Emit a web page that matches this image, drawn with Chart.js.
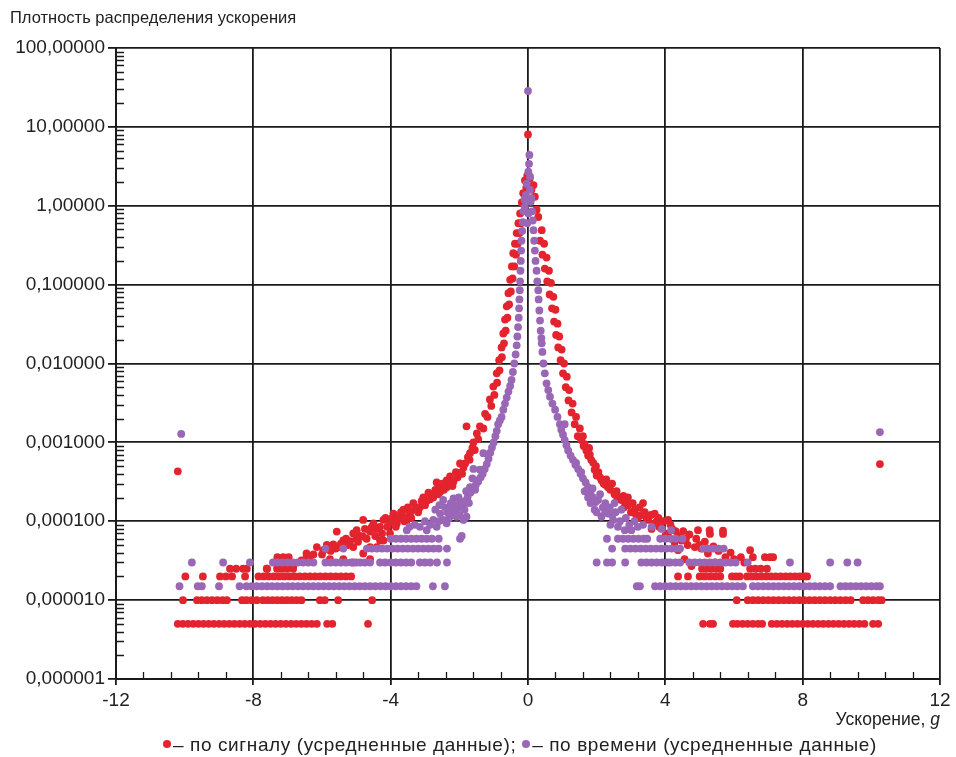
<!DOCTYPE html>
<html lang="ru">
<head>
    <meta charset="UTF-8">
    <title>Плотность распределения ускорения</title>
    <script src="https://cdn.jsdelivr.net/npm/chart.js@4.4.1/dist/chart.umd.min.js"></script>
    <style>
        body { margin: 0; background: #fff; }
        #wrap { position: relative; width: 956px; height: 757px; font-family: "Liberation Sans", Arial, sans-serif; color: #222; }
        #wrap canvas { position: absolute; left: 0; top: 0; }
        .title { position: absolute; left: 10px; top: 8px; font-size: 16.5px; }
        .xtitle { position: absolute; right: 16px; top: 709px; font-size: 17.5px; }
        .legend { position: absolute; left: 163px; top: 734px; font-size: 19px; letter-spacing: 0.6px; white-space: nowrap; }
        .dot { display: inline-block; width: 8px; height: 8px; border-radius: 50%; vertical-align: middle; margin: 0 2px 3px 0; }
    </style>
</head>
<body>
    <div id="wrap">
        <canvas id="chart" width="956" height="757"></canvas>
        <div class="title">Плотность распределения ускорения</div>
        <div class="xtitle">Ускорение, <i>g</i></div>
        <div class="legend"><span class="dot" style="background:#e3242e"></span>– по сигналу (усредненные данные); <span class="dot" style="background:#9a66b6"></span>– по времени (усредненные данные)</div>
    </div>

    <script>
        // подписи делений оси Y (от 1e-6 до 100)
        const yTickLabels = ['0,000001', '0,000010', '0,000100', '0,001000', '0,010000', '0,100000', '1,00000', '10,00000', '100,00000'];
        const xTickLabels = ['-12', '-8', '-4', '0', '4', '8', '12'];

        // по сигналу: уровни "полос" в хвостах и абсциссы точек на них
        const redLevels = [0.000005, 0.00001, 0.00002, 0.000025, 0.000035];
        const redBandX = [
            [-10.2, -10.05, -9.9, -9.75, -9.6, -9.45, -9.3, -9.15, -9.0, -8.85, -8.7, -8.55, -8.4, -8.25, -8.1, -7.95, -7.8, -7.65, -7.5, -7.35, -7.2, -7.05, -6.9, -6.75, -6.6, -6.45, -6.3, -6.15, -5.85, -5.7, -4.66,
             5.1, 5.3, 5.39, 5.97, 6.1, 6.25, 6.4, 6.55, 6.7, 6.82, 7.1, 7.25, 7.4, 7.55, 7.7, 7.85, 8.0, 8.15, 8.3, 8.45, 8.6, 8.75, 8.9, 9.05, 9.2, 9.35, 9.5, 9.65, 9.8, 10.05, 10.2],
            [-10.05, -9.64, -9.5, -9.35, -9.2, -9.05, -8.9, -8.77, -8.33, -8.2, -8.05, -7.9, -7.72, -7.58, -7.44, -7.3, -7.16, -7.02, -6.88, -6.74, -6.6, -6.06, -5.92, -5.53, -4.54,
             6.08, 6.4, 6.55, 6.7, 6.85, 7.0, 7.15, 7.3, 7.45, 7.6, 7.75, 7.9, 8.05, 8.2, 8.35, 8.5, 8.65, 8.8, 8.95, 9.1, 9.25, 9.4, 9.76, 9.9, 10.05, 10.2, 10.3],
            [-9.98, -9.47, -8.97, -8.8, -8.62, -8.24, -7.85, -7.7, -7.55, -7.4, -7.25, -7.1, -6.95, -6.8, -6.65, -6.5, -6.35, -6.2, -6.05, -5.9, -5.75, -5.6, -5.45, -5.3, -5.15,
             4.37, 4.66, 5.0, 5.15, 5.3, 5.45, 5.6, 5.94, 6.06, 6.17, 6.38, 6.52, 6.66, 6.8, 6.94, 7.08, 7.22, 7.36, 7.5, 7.64, 7.78, 7.92, 8.06, 8.13],
            [-8.68, -8.5, -8.3, -8.19, -7.6, -7.31, -7.17, -7.02, -6.84,
             5.07, 5.2, 5.35, 5.5, 5.6, 6.47, 6.62, 6.78, 6.96],
            [-7.3, -7.13, -6.97, -6.45,
             6.55, 6.9, 7.05, 7.14]
        ];

        // по сигналу: пик и рассеянные точки [x, y]
        const redPoints = [
            [-10.2, 0.00043], [10.25, 0.00053],
            [0.0, 8.0], [-0.09, 2.1], [0.16, 1.83], [-0.14, 1.44], [0.2, 1.3], [-0.18, 1.1], [0.25, 0.89], [-0.02, 2.4], [0.05, 2.2], [-0.05, 1.7], [0.1, 1.6],
            [-0.23, 0.8], [-0.28, 0.6], [-0.33, 0.45], [-0.38, 0.33], [-0.43, 0.25], [-0.47, 0.17], [-0.52, 0.115], [-0.57, 0.078], [-0.62, 0.053], [-0.67, 0.036], [-0.72, 0.024], [-0.77, 0.016], [-0.84, 0.011], [-0.91, 0.0075], [-1.01, 0.0051], [-1.11, 0.0035], [-1.25, 0.0023], [-1.4, 0.0016],
            [-0.2, 0.6], [-0.25, 0.45], [-0.3, 0.33], [-0.35, 0.24], [-0.4, 0.17], [-0.45, 0.12], [-0.5, 0.082], [-0.55, 0.056], [-0.6, 0.038], [-0.65, 0.026], [-0.7, 0.018], [-0.76, 0.012], [-0.83, 0.0082], [-0.9, 0.0057], [-0.98, 0.004], [-1.07, 0.0029], [-1.18, 0.0021], [-1.3, 0.0015],
            [-1.49, 0.0013], [-1.59, 0.001], [-1.69, 0.00073], [-1.79, 0.0016], [-1.83, 0.00054], [-1.98, 0.00041], [-1.98, 0.00054], [-2.17, 0.00032], [-2.27, 0.00037], [-2.37, 0.00027], [-2.56, 0.000235], [-2.66, 0.00031], [-2.76, 0.0002], [-2.95, 0.00018], [-3.05, 0.0002], [-3.15, 0.00015], [-3.34, 0.00017], [-3.44, 0.00013], [-3.53, 0.000104], [-3.63, 0.00014], [-3.73, 0.000114], [-3.92, 0.000125], [-4.02, 0.000098], [-4.02, 0.00007], [-4.21, 0.000104], [-4.31, 0.000085], [-4.31, 0.000057], [-4.5, 0.000094], [-4.6, 0.000074], [-4.6, 0.000047], [-4.8, 0.000104], [-4.89, 0.000065], [-5.09, 0.00007], [-5.18, 0.000056], [-5.09, 0.00003], [-5.48, 0.000047],
            [-2.37, 0.00033], [-2.56, 0.00027], [-2.76, 0.00022], [-3.24, 0.00015], [-3.44, 0.000125], [-3.63, 0.000114], [-3.82, 0.000094], [-4.21, 0.000057], [-4.41, 0.000047], [-4.6, 0.000033], [-4.8, 0.000039], [-4.8, 0.000064], [-4.99, 0.000077], [-5.09, 0.000047], [-5.38, 0.000057], [-5.38, 0.000033], [-5.57, 0.000074], [-5.67, 0.000051], [-5.77, 0.000033], [-5.96, 0.000043], [-5.86, 0.00005], [-6.15, 0.000047], [-6.25, 0.000038], [-6.45, 0.000039], [-6.84, 0.000027], [-7.61, 0.000025],
            [-1.45, 0.0011], [-1.55, 0.0008], [-1.62, 0.00085], [-1.7, 0.0006], [-1.75, 0.00065], [-1.88, 0.00048], [-1.92, 0.0004], [-2.05, 0.00036], [-2.1, 0.00042], [-2.2, 0.00028], [-2.3, 0.0003], [-2.45, 0.00025], [-2.5, 0.0003], [-2.62, 0.00022], [-2.7, 0.00025], [-2.85, 0.00019], [-2.9, 0.00023], [-3.0, 0.00016], [-3.1, 0.00018], [-3.2, 0.00013], [-3.3, 0.00014], [-3.4, 0.00011], [-3.5, 0.00015], [-3.6, 0.0001], [-3.7, 0.00013], [-3.8, 0.00011], [-3.85, 0.000085], [-3.95, 0.00011], [-4.1, 0.000085], [-4.15, 0.00011], [-4.25, 0.00007], [-4.4, 0.00008], [-4.45, 0.000065], [-4.55, 0.000085], [-4.7, 0.00006], [-4.75, 0.00008], [-4.95, 0.000055], [-5.0, 0.00006], [-5.25, 0.00005], [-5.3, 0.00006], [-5.45, 0.000052], [-5.6, 0.000045], [-5.75, 0.000042], [-6.0, 0.000038], [-6.35, 0.000035], [-6.6, 0.000032],
            [0.3, 0.72], [0.4, 0.49], [0.47, 0.33], [0.54, 0.22], [0.61, 0.15], [0.67, 0.105], [0.74, 0.07], [0.8, 0.048], [0.86, 0.032], [0.91, 0.022], [0.98, 0.015], [1.05, 0.01], [1.13, 0.0068], [1.2, 0.0046], [1.3, 0.0031], [1.4, 0.0021], [1.51, 0.0015],
            [0.35, 0.36], [0.42, 0.24], [0.49, 0.16], [0.56, 0.11], [0.63, 0.075], [0.7, 0.05], [0.76, 0.034], [0.82, 0.023], [0.88, 0.016], [0.95, 0.011], [1.02, 0.0075], [1.1, 0.005], [1.18, 0.0034], [1.27, 0.0024], [1.36, 0.0017], [1.45, 0.0012],
            [1.55, 0.00107], [1.7, 0.00079], [1.84, 0.0006], [1.94, 0.00045], [2.14, 0.00033], [2.33, 0.00027], [2.52, 0.00022], [2.72, 0.000186], [2.91, 0.00016], [2.91, 0.0002], [3.11, 0.00014], [3.3, 0.00012], [3.35, 0.00017], [3.5, 0.000104], [3.69, 0.000094], [3.69, 0.000125], [3.88, 0.000081], [4.08, 0.00007], [4.08, 0.000104], [4.27, 0.000054], [4.37, 0.000043], [4.47, 0.000057], [4.56, 0.000033], [4.76, 0.000027], [4.86, 0.000047], [4.95, 0.000077], [5.24, 0.000039], [5.29, 0.000077], [5.3, 0.000069], [5.44, 0.00003], [5.68, 0.000069], [5.68, 0.000076], [6.47, 0.000043], [6.2, 0.000035], [5.9, 0.00004],
            [1.65, 0.00095], [1.8, 0.0007], [2.0, 0.00038], [2.25, 0.00029], [2.6, 0.00019], [2.8, 0.00015], [3.0, 0.00013], [3.2, 0.00011], [3.6, 0.00008], [3.8, 0.00011], [4.2, 0.00008], [4.6, 0.00006], [5.0, 0.00005],
            [1.6, 0.0012], [1.62, 0.0009], [1.75, 0.00068], [1.78, 0.00085], [1.9, 0.00055], [1.98, 0.0005], [2.05, 0.00042], [2.1, 0.00036], [2.2, 0.0003], [2.28, 0.00034], [2.4, 0.00025], [2.45, 0.0003], [2.58, 0.00024], [2.65, 0.0002], [2.78, 0.00021], [2.85, 0.00017], [3.05, 0.00017], [3.15, 0.00012], [3.25, 0.00015], [3.4, 0.00013], [3.45, 0.00011], [3.58, 0.00012], [3.75, 0.0001], [3.82, 0.000085], [3.95, 0.0001], [4.0, 0.000065], [4.15, 0.00009], [4.3, 0.000075], [4.4, 0.000065], [4.52, 0.000075], [4.65, 0.00005], [4.7, 0.000068], [4.9, 0.00006], [5.05, 0.000045], [5.15, 0.000055], [5.4, 0.000048], [5.55, 0.000042], [5.75, 0.000035], [6.0, 0.000033], [6.3, 0.00003]
        ];

        // по времени: уровни "полос" в хвостах и абсциссы точек на них
        const purpleLevels = [0.000015, 0.00003, 0.000045, 0.00006];
        const purpleBandX = [
            [-10.15, -9.62, -9.5, -9.0, -8.4, -8.2, -8.05, -7.9, -7.75, -7.6, -7.45, -7.3, -7.15, -7.0, -6.85, -6.7, -6.55, -6.4, -6.25, -6.1, -5.95, -5.8, -5.65, -5.5, -5.35, -5.2, -5.05, -4.9, -4.75, -4.6, -4.45, -4.3, -4.15, -4.0, -3.85, -3.7, -3.55, -3.4, -3.25, -2.77, -2.42,
             3.17, 3.26, 3.7, 3.85, 4.0, 4.15, 4.3, 4.45, 4.6, 4.75, 4.9, 5.05, 5.2, 5.35, 5.5, 5.65, 5.8, 5.95, 6.1, 6.26, 6.55, 6.7, 6.85, 7.0, 7.15, 7.3, 7.45, 7.6, 7.75, 7.9, 8.05, 8.2, 8.35, 8.5, 8.65, 8.8, 9.1, 9.25, 9.4, 9.55, 9.7, 9.85, 10.0, 10.15, 10.25],
            [-9.79, -8.88, -8.1, -7.43, -7.3, -7.15, -7.0, -6.85, -6.7, -6.55, -6.4, -6.25, -5.9, -5.75, -5.6, -5.45, -5.3, -5.15, -5.0, -4.89, -4.75, -4.6, -4.31, -4.16, -4.0, -3.85, -3.7, -3.55, -3.4, -3.15, -3.0, -2.85, -2.65, -2.36,
             2.0, 2.3, 2.45, 2.83, 3.3, 3.45, 3.6, 3.75, 3.9, 4.05, 4.14, 4.3, 4.43, 4.7, 4.85, 5.0, 5.15, 5.3, 5.45, 5.6, 5.75, 5.9, 6.05, 6.4, 7.63, 8.8, 9.3, 9.6],
            [-5.9, -5.38, -4.69, -4.55, -4.4, -4.25, -4.1, -3.95, -3.8, -3.65, -3.5, -3.35, -3.2, -3.05, -2.9, -2.75, -2.6, -2.36,
             2.45, 2.83, 2.98, 3.13, 3.28, 3.43, 3.58, 3.73, 3.88, 4.03, 4.18, 4.33, 4.43, 5.1, 5.25, 5.4, 5.55, 5.7],
            [-4.0, -3.85, -3.7, -3.55, -3.4, -3.25, -3.1, -2.95, -2.8, -2.6, -1.98,
             2.3, 2.62, 2.77, 2.92, 3.07, 3.22, 3.37, 3.47, 3.85, 4.0, 4.15, 4.3, 4.5]
        ];

        // по времени: пик и рассеянные точки [x, y]
        const purplePoints = [
            [-10.1, 0.00128], [10.25, 0.00135],
            [0.0, 28.5], [0.04, 4.4], [0.03, 3.4], [0.01, 2.7], [0.06, 2.35], [-0.04, 1.9], [0.06, 1.6], [-0.06, 1.37], [0.08, 1.12], [-0.09, 0.97], [0.01, 0.8], [-0.02, 0.6],
            [-0.1, 1.2], [-0.13, 0.85], [-0.15, 0.62], [-0.17, 0.48], [-0.19, 0.36], [-0.2, 0.27], [-0.21, 0.2], [-0.22, 0.15], [-0.23, 0.11], [-0.24, 0.085], [-0.25, 0.065], [-0.26, 0.05], [-0.27, 0.038], [-0.29, 0.029], [-0.31, 0.022], [-0.33, 0.017], [-0.36, 0.013], [-0.4, 0.01], [-0.44, 0.0078], [-0.48, 0.0062], [-0.52, 0.0052], [-0.57, 0.0044], [-0.62, 0.0037], [-0.67, 0.0031], [-0.72, 0.0026], [-0.77, 0.0021], [-0.82, 0.0019], [-0.87, 0.0017], [-0.91, 0.0014], [-0.95, 0.0012], [-1.0, 0.001], [-1.05, 0.00086], [-1.1, 0.00074], [-1.15, 0.00062], [-1.2, 0.00053], [-1.26, 0.00046], [-1.32, 0.0004], [-1.38, 0.00036], [-1.45, 0.00032], [-1.52, 0.00029], [-1.6, 0.00026], [-1.68, 0.00023], [-1.76, 0.0002], [-1.84, 0.00018], [-1.92, 0.00016], [-2.0, 0.00015], [-2.1, 0.00013],
            [-1.3, 0.00073], [-1.49, 0.00033], [-1.59, 0.00046], [-1.54, 0.00025], [-1.69, 0.00027], [-1.79, 0.000114], [-1.88, 0.000104], [-1.93, 0.000065], [-1.98, 0.00017], [-2.08, 0.000114], [-2.17, 0.000195], [-2.27, 0.00014], [-2.37, 0.000094], [-2.47, 0.000186], [-2.48, 0.000104], [-2.56, 0.000125], [-2.66, 0.000085], [-2.7, 0.00014], [-2.76, 0.000104], [-2.95, 0.000077], [-3.15, 0.000085], [-3.53, 0.000077], [-2.3, 0.00011], [-2.2, 0.00012],
            [-1.4, 0.00045], [-1.62, 0.00035], [-1.72, 0.00017], [-1.8, 0.00024], [-1.85, 0.00014], [-2.0, 0.00012], [-2.02, 0.0002], [-2.12, 0.00016], [-2.25, 0.00017], [-2.35, 0.00013], [-2.42, 0.00015], [-2.6, 0.0001], [-2.58, 0.00016], [-2.85, 0.00009], [-3.0, 0.0001], [-3.3, 0.00009], [-3.45, 0.000085],
            [0.1, 1.25], [0.12, 0.85], [0.14, 0.65], [0.16, 0.49], [0.18, 0.36], [0.2, 0.27], [0.22, 0.2], [0.25, 0.15], [0.27, 0.11], [0.3, 0.085], [0.31, 0.065], [0.33, 0.047], [0.35, 0.035], [0.37, 0.026], [0.39, 0.021], [0.4, 0.018], [0.42, 0.014], [0.45, 0.01], [0.49, 0.0075], [0.54, 0.0056], [0.59, 0.0046], [0.64, 0.0038], [0.71, 0.0031], [0.79, 0.0026], [0.86, 0.0021], [0.93, 0.0017], [0.97, 0.00145], [1.02, 0.00125], [1.07, 0.00107], [1.12, 0.00092], [1.17, 0.00079], [1.24, 0.00068], [1.31, 0.0006], [1.38, 0.00052], [1.46, 0.00046], [1.53, 0.0004], [1.6, 0.00035], [1.68, 0.00031], [1.75, 0.00027], [1.82, 0.00023], [1.89, 0.0002], [1.97, 0.000175], [2.04, 0.000186],
            [1.75, 0.0002], [1.94, 0.00014], [2.14, 0.000114], [2.18, 0.00015], [2.33, 0.000125], [2.48, 0.000104], [2.52, 0.00017], [2.62, 0.000085], [2.72, 0.00014], [2.82, 0.000077], [3.01, 0.000077], [3.2, 0.000085], [4.17, 0.000077], [1.07, 0.0017], [2.25, 0.00013], [2.4, 0.00009],
            [1.4, 0.00055], [1.55, 0.00042], [1.65, 0.00024], [1.82, 0.00017], [1.88, 0.00026], [2.0, 0.00013], [2.1, 0.00022], [2.25, 0.00017], [2.38, 0.00015], [2.45, 0.00012], [2.55, 0.00013], [2.68, 0.0001], [2.85, 0.00011], [2.95, 0.00009], [3.1, 0.0001], [3.35, 0.00009], [3.6, 0.000085], [3.9, 0.00008]
        ];

        const redColor = '#e3242e';
        const purpleColor = '#9a66b6';
        const gridColor = '#1a1a1a';

        // собрать точки из полос и списка пар
        function buildPoints(levels, bands, pairs) {
            const pts = [];
            levels.forEach((lvl, i) => bands[i].forEach(x => pts.push({ x: x, y: lvl })));
            pairs.forEach(p => pts.push({ x: p[0], y: p[1] }));
            return pts;
        }

        function isDecade(v) {
            const e = Math.log10(v);
            return Math.abs(e - Math.round(e)) < 1e-6;
        }

        // мелкие засечки внутри области построения
        const minorTicks = {
            id: 'minorTicks',
            afterDraw(chart) {
                const { ctx, chartArea, scales } = chart;
                ctx.save();
                ctx.strokeStyle = gridColor;
                ctx.lineWidth = 1.3;
                ctx.beginPath();
                for (let e = -6; e < 2; e++) {
                    for (let k = 2; k <= 9; k++) {
                        const py = Math.round(scales.y.getPixelForValue(k * Math.pow(10, e))) + 0.5;
                        ctx.moveTo(chartArea.left, py);
                        ctx.lineTo(chartArea.left + 8, py);
                    }
                }
                for (let i = 0; i <= 30; i++) {
                    if (i % 5 === 0) continue;
                    const px = Math.round(scales.x.getPixelForValue(-12 + i * 0.8)) + 0.5;
                    ctx.moveTo(px, chartArea.bottom);
                    ctx.lineTo(px, chartArea.bottom - 7);
                }
                ctx.stroke();
                ctx.restore();
            }
        };

        const ctx = document.getElementById('chart').getContext('2d');
        new Chart(ctx, {
            type: 'scatter',
            data: {
                datasets: [{
                    label: 'по сигналу (усредненные данные)',
                    data: buildPoints(redLevels, redBandX, redPoints),
                    backgroundColor: redColor,
                    borderWidth: 0,
                    pointRadius: 3.9,
                    order: 2
                }, {
                    label: 'по времени (усредненные данные)',
                    data: buildPoints(purpleLevels, purpleBandX, purplePoints),
                    backgroundColor: purpleColor,
                    borderWidth: 0,
                    pointRadius: 3.9,
                    order: 1
                }]
            },
            options: {
                responsive: false,
                animation: false,
                devicePixelRatio: 1,
                layout: { padding: { top: 48, right: 16, bottom: 0, left: 0 } },
                plugins: {
                    legend: { display: false },
                    title: { display: false },
                    tooltip: { enabled: false }
                },
                scales: {
                    x: {
                        type: 'linear',
                        min: -12,
                        max: 12,
                        afterFit: (scale) => { scale.height = 78; },
                        ticks: {
                            stepSize: 4,
                            padding: 4,
                            color: '#222',
                            font: { family: '"Liberation Sans", Arial, sans-serif', size: 19 },
                            callback: (v) => xTickLabels[Math.round((v + 12) / 4)]
                        },
                        grid: { color: gridColor, lineWidth: 1.8, tickLength: 6 },
                        border: { color: gridColor, width: 2 }
                    },
                    y: {
                        type: 'logarithmic',
                        min: 0.000001,
                        max: 100,
                        afterFit: (scale) => { scale.width = 116; },
                        ticks: {
                            autoSkip: false,
                            padding: 3,
                            color: '#222',
                            font: { family: '"Liberation Sans", Arial, sans-serif', size: 19 },
                            callback: (v) => isDecade(v) ? yTickLabels[Math.round(Math.log10(v)) + 6] : ''
                        },
                        grid: {
                            color: (c) => c.tick && isDecade(c.tick.value) ? gridColor : 'rgba(0,0,0,0)',
                            lineWidth: 1.8,
                            tickLength: 8
                        },
                        border: { color: gridColor, width: 2 }
                    }
                }
            },
            plugins: [minorTicks]
        });
    </script>
</body>
</html>
